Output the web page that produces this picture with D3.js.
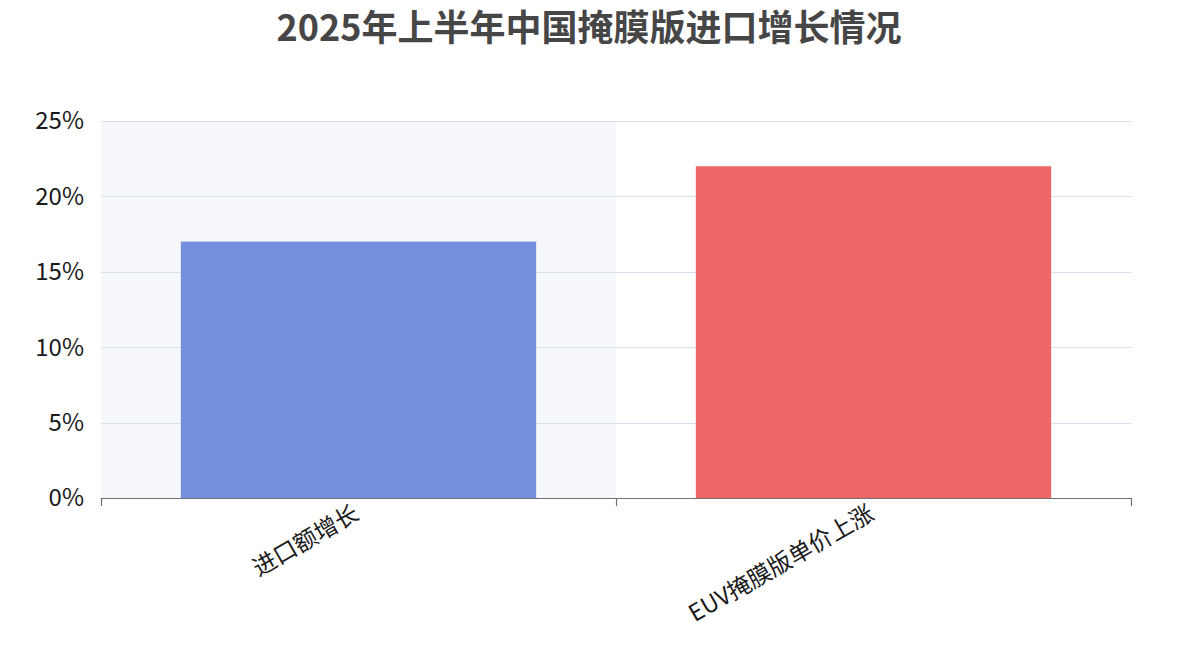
<!DOCTYPE html>
<html><head><meta charset="utf-8">
<script src="https://cdn.jsdelivr.net/npm/d3@7"></script>
<style>body{margin:0;background:#fff;}svg{display:block;font-family:"Noto Sans CJK SC","Noto Sans",sans-serif;}</style>
</head><body>
<svg id="c" width="1178" height="662"></svg>
<script>
const title = "2025年上半年中国掩膜版进口增长情况";
const categories = ["进口额增长", "EUV掩膜版单价上涨"];
const values = [17, 22];
const barColors = ["#7490dd", "#ee6666"];
const yTicks = [0, 5, 10, 15, 20, 25];
const highlighted = 0;

const svg = d3.select("#c");
const m = {left:101, right:1131, top:121, bottom:498};
const x = d3.scaleBand().domain(categories).range([m.left, m.right]).paddingInner(0).paddingOuter(0);
const y = d3.scaleLinear().domain([0, 25]).range([m.bottom, m.top]);

// shadow
svg.append("rect").attr("x", x(categories[highlighted])).attr("y", m.top)
  .attr("width", x.bandwidth()).attr("height", m.bottom - m.top).attr("fill", "#f6f7fb");

// grid
svg.append("g").selectAll("line").data(yTicks.filter(d=>d>0)).join("line")
  .attr("x1", m.left).attr("x2", m.right).attr("y1", d=>Math.round(y(d))+0.5).attr("y2", d=>Math.round(y(d))+0.5)
  .attr("stroke", "#dadff0").attr("stroke-width", 1);

// y labels
svg.append("g").selectAll("text").data(yTicks).join("text")
  .attr("x", m.left - 17).attr("y", d=>y(d)).attr("dy", "0.35em")
  .attr("text-anchor", "end").attr("font-size", 24).attr("fill", "#1a1a1a")
  .text(d=>d+"%");

// bars
const barW = x.bandwidth()*0.69;
svg.append("g").selectAll("rect").data(values).join("rect")
  .attr("x", (d,i)=>x(categories[i]) + (x.bandwidth()-barW)/2)
  .attr("y", d=>y(d)).attr("width", barW).attr("height", d=>m.bottom - y(d))
  .attr("fill", (d,i)=>barColors[i]);

// x axis
const xa = svg.append("g");
xa.append("line").attr("x1", m.left).attr("x2", m.right+0.5).attr("y1", m.bottom+0.5).attr("y2", m.bottom+0.5)
  .attr("stroke", "#6e7079").attr("stroke-width", 1.2);
const tickPos = categories.map(c=>x(c)).concat([m.right]);
xa.selectAll(".tk").data(tickPos).join("line").attr("class","tk")
  .attr("x1", d=>Math.round(d)+0.5).attr("x2", d=>Math.round(d)+0.5)
  .attr("y1", m.bottom).attr("y2", m.bottom+8).attr("stroke", "#6e7079").attr("stroke-width", 1.2);
xa.selectAll(".lb").data(categories).join("text").attr("class","lb")
  .attr("transform", d=>`translate(${x(d)+x.bandwidth()/2 - 2},${m.bottom+13}) rotate(-30)`)
  .attr("text-anchor", "end").attr("dy", "0.35em").attr("font-size", 23.5).attr("fill", "#1a1a1a")
  .text(d=>d);

// title
svg.append("text").attr("x", 589).attr("y", 41).attr("text-anchor", "middle")
  .attr("font-size", 36).attr("font-weight", "bold").attr("fill", "#464646").text(title);
</script>
</body></html>
